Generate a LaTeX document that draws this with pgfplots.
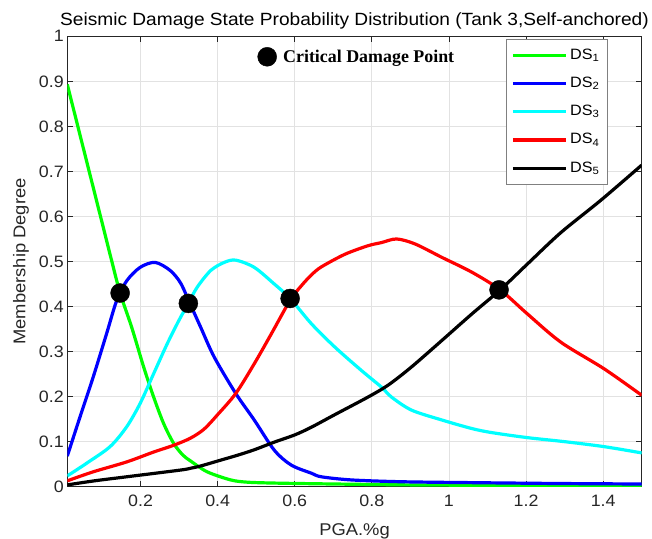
\documentclass[border=0pt]{standalone}
\usepackage{fontspec}
\setmainfont{Liberation Sans}[FakeStretch=1.08]
\newfontfamily\critfont{Liberation Serif}
\usepackage{pgfplots}
\pgfplotsset{compat=1.18}
\definecolor{axgray}{RGB}{38,38,38}
\definecolor{gridgray}{RGB}{226,226,226}
\definecolor{dsgreen}{RGB}{0,255,0}
\definecolor{dsblue}{RGB}{0,0,255}
\definecolor{dscyan}{RGB}{0,255,255}
\definecolor{dsred}{RGB}{255,0,0}

\pgfplotstableread{
x y
0.01 0.893
0.05 0.757
0.10 0.587
0.125 0.502
0.147 0.430
0.177 0.354
0.208 0.266
0.234 0.199
0.260 0.140
0.286 0.096
0.310 0.070
0.330 0.057
0.373 0.033
0.434 0.015
0.478 0.010
0.550 0.008
0.700 0.006
0.900 0.004
1.100 0.003
1.300 0.002
1.500 0.001
}\dsone
\pgfplotstableread{
x y
0.01 0.068
0.043 0.155
0.077 0.243
0.112 0.340
0.138 0.413
0.164 0.457
0.199 0.487
0.238 0.498
0.277 0.480
0.304 0.452
0.328 0.407
0.356 0.354
0.391 0.288
0.447 0.207
0.495 0.148
0.547 0.081
0.591 0.048
0.643 0.030
0.669 0.022
0.747 0.015
0.877 0.011
1.060 0.009
1.300 0.007
1.500 0.006
}\dstwo
\pgfplotstableread{
x y
0.01 0.024
0.06 0.052
0.121 0.089
0.164 0.133
0.199 0.185
0.234 0.251
0.269 0.317
0.300 0.370
0.324 0.407
0.347 0.443
0.382 0.480
0.417 0.498
0.447 0.503
0.495 0.487
0.547 0.450
0.588 0.418
0.643 0.362
0.704 0.310
0.773 0.258
0.825 0.221
0.851 0.199
0.903 0.170
0.982 0.148
1.060 0.129
1.112 0.120
1.203 0.109
1.300 0.100
1.402 0.089
1.500 0.075
}\dsthree
\pgfplotstableread{
x y
0.01 0.013
0.077 0.033
0.164 0.055
0.234 0.077
0.286 0.092
0.330 0.108
0.365 0.128
0.400 0.160
0.447 0.207
0.495 0.273
0.539 0.339
0.588 0.414
0.617 0.446
0.643 0.470
0.669 0.488
0.730 0.516
0.790 0.535
0.825 0.542
0.864 0.550
0.912 0.539
0.982 0.509
1.060 0.476
1.133 0.437
1.203 0.384
1.290 0.321
1.402 0.262
1.500 0.203
}\dsfour
\pgfplotstableread{
x y
0.01 0.004
0.08 0.013
0.164 0.022
0.304 0.037
0.330 0.041
0.356 0.046
0.408 0.059
0.452 0.070
0.495 0.082
0.547 0.099
0.600 0.115
0.643 0.132
0.704 0.160
0.790 0.199
0.843 0.226
0.903 0.266
0.982 0.325
1.060 0.384
1.133 0.437
1.203 0.494
1.290 0.564
1.394 0.636
1.500 0.714
}\dsfive
\pgfplotstableread{
x y
0.147 0.430
0.324 0.407
0.588 0.418
1.130 0.437
}\critical

\begin{document}
\begin{tikzpicture}
\pgfplotsset{common/.style={width=574.4pt,height=450.4pt,scale only axis,
  xmin=0.01,xmax=1.5,ymin=0,ymax=1,at={(0,0)},anchor=south west}}
\begin{axis}[common,
  xtick={0.2,0.4,0.6,0.8,1,1.2,1.4},
  ytick={0,0.1,0.2,0.3,0.4,0.5,0.6,0.7,0.8,0.9,1},
  tick align=inside, tick pos=both,
  major tick length=6pt,
  axis line style={axgray,line width=1pt},
  tick style={axgray,line width=0.8pt},
  grid=major, major grid style={gridgray,line width=0.9pt},
  /pgf/number format/assume math mode=true,
  tick label style={font=\fontsize{16.5}{19}\selectfont,text=axgray},
  xticklabel style={yshift=-4.5pt},
  title={Seismic Damage State Probability Distribution (Tank 3,Self-anchored)},
  title style={font=\fontsize{17.7}{21}\selectfont,inner sep=1pt,at={(axis description cs:0.5,1)},anchor=base,yshift=4.6pt},
  xlabel={PGA.\%g},
  xlabel style={font=\fontsize{17}{20}\selectfont,text=axgray,at={(axis description cs:0.5,-0.1075)},anchor=base},
  ylabel={Membership Degree},
  ylabel style={font=\fontsize{17}{20}\selectfont,text=axgray,at={(axis description cs:-0.0728,0.5)},anchor=base},
  legend cell align=left,
  legend image code/.code={\draw[#1] (0pt,0pt) -- (53pt,0pt);},
  legend style={at={(axis description cs:0.7637,0.9933)},anchor=north west,
    draw=gray,line width=0.8pt,fill=white,
    font=\fontsize{15}{17}\selectfont,
    inner xsep=5pt,inner ysep=8.5pt,row sep=13.7pt,column sep=0pt,
    nodes={inner xsep=2.6pt,inner ysep=0pt,text height=11pt,text depth=3.5pt}},
]
\addplot[dsgreen,line width=3.2pt,smooth,tension=0.5] table {\dsone};
\addlegendentry{DS\textsubscript{1}}
\addplot[dsblue,line width=3.2pt,smooth,tension=0.5] table {\dstwo};
\addlegendentry{DS\textsubscript{2}}
\addplot[dscyan,line width=3.2pt,smooth,tension=0.5] table {\dsthree};
\addlegendentry{DS\textsubscript{3}}
\addplot[dsred,line width=3.2pt,smooth,tension=0.5] table {\dsfour};
\addlegendentry{DS\textsubscript{4}}
\addplot[black,line width=3.2pt,smooth,tension=0.5] table {\dsfive};
\addlegendentry{DS\textsubscript{5}}
\coordinate (sw) at (rel axis cs:0,0);
\coordinate (ne) at (rel axis cs:1,1);
\end{axis}
\begin{axis}[common,hide axis,
  legend style={at={(axis description cs:0.3311,0.9545)},anchor=west,
    draw=none,fill=none,inner xsep=0pt,inner ysep=0pt,
    font=\critfont\bfseries\fontsize{17.9}{20}\selectfont,
    nodes={inner xsep=6.5pt,inner ysep=0pt}},
]
\addplot[only marks,mark=*,mark size=9.5pt,mark options={fill=black,draw=black}] table {\critical};
\addlegendentry{Critical Damage Point}
\end{axis}
\pgfresetboundingbox
\useasboundingbox ([shift={(-67.3pt,-51.3pt)}]sw) rectangle ([shift={(10.3pt,36.3pt)}]ne);
\end{tikzpicture}
\end{document}
